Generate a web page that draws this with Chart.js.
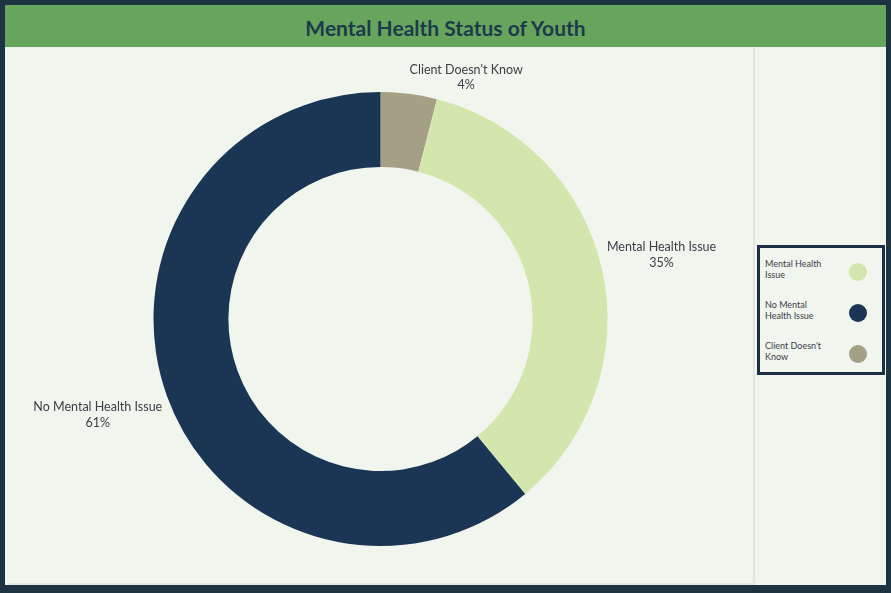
<!DOCTYPE html>
<html>
<head>
<meta charset="utf-8">
<script src="https://cdn.jsdelivr.net/npm/chart.js@4"></script>
<style>
  html, body { margin: 0; padding: 0; background: #1e3342; }
  #frame { position: absolute; left: 0; top: 0; width: 891px; height: 593px; box-sizing: border-box;
    border: 5px solid #1e3342; border-bottom-width: 8px; background: #eff5ee; font-family: Lato, "Open Sans", sans-serif; }
  #title { position: absolute; left: 0; top: 0; right: 0; height: 42px; background: #68a55c;
    color: #1c3a4c; font-weight: bold; font-size: 21px; text-align: center; line-height: 45px; }
  #main { position: absolute; left: 3px; top: 43px; width: 745px; height: 535px; border-right: 2px solid #e2e6e0;
    border-bottom: 2px solid #e2e6e0; background: #f0f5ee; }
  #side { position: absolute; left: 750px; top: 43px; width: 131px; height: 537px; background: #f0f5ee; }
  #legend { position: absolute; left: 2px; top: 197px; width: 122px; height: 124px; border: 3px solid #1b2e45;
    box-sizing: content-box; }
  .item { position: absolute; left: 5px; width: 115px; height: 30px; }
  .item span { position: absolute; left: 0; top: 0; width: 70px; font-size: 9px; line-height: 11px; color: #3b4048; }
  .item i { position: absolute; left: 84px; top: 5px; width: 18px; height: 18px; border-radius: 50%; }
  canvas { position: absolute; left: 0; top: 0; }
</style>
</head>
<body>
<div id="frame">
  <div id="title">Mental Health Status of Youth</div>
  <div id="main"><canvas id="donut" width="745" height="535"></canvas></div>
  <div id="side"><div id="legend"></div></div>
</div>
<script>
// slices in drawing order, clockwise from 12 o'clock
var LABELS = ["Client Doesn't Know", 'Mental Health Issue', 'No Mental Health Issue'];
var VALUES = [4, 35, 61];
var COLORS = ['#a59f85', '#d2e6ad', '#1b3554'];
// legend lists them in a different order
var LEGEND_ORDER = [1, 2, 0];
var LEGEND_TEXT = ['Mental Health\nIssue', 'No Mental\nHealth Issue', "Client Doesn't\nKnow"];

(function () {
  var lg = document.getElementById('legend');
  LEGEND_ORDER.forEach(function (idx, k) {
    var d = document.createElement('div');
    d.className = 'item';
    d.style.top = (10 + k * 41) + 'px';
    var s = document.createElement('span');
    s.textContent = LEGEND_TEXT[k];
    s.style.whiteSpace = 'pre';
    var c = document.createElement('i');
    c.style.background = COLORS[idx];
    d.appendChild(s); d.appendChild(c);
    lg.appendChild(d);
  });
})();

/* name + percent written outside each slice */
var outsideLabels = {
  id: 'outsideLabels',
  afterDatasetsDraw: function (chart) {
    var ctx = chart.ctx;
    var meta = chart.getDatasetMeta(0);
    var total = VALUES.reduce(function (a, b) { return a + b; }, 0);
    ctx.save();
    ctx.font = '12.5px Lato, "Open Sans", sans-serif';
    ctx.fillStyle = '#3a4046';
    ctx.textBaseline = 'middle';
    ctx.textAlign = 'center';
    meta.data.forEach(function (arc, i) {
      var a = (arc.startAngle + arc.endAngle) / 2;
      var r = arc.outerRadius + 5;
      var ax = arc.x + Math.cos(a) * r;
      var ay = arc.y + Math.sin(a) * r;
      var lines = [LABELS[i], Math.round(VALUES[i] / total * 100) + '%'];
      var w = Math.max.apply(null, lines.map(function (t) { return ctx.measureText(t).width; }));
      var lh = 15.5;
      var cx = Math.cos(a) >= 0 ? ax + w / 2 : ax - w / 2;
      var top = Math.sin(a) < 0 ? ay - lh * 2 + 2 : ay + 2;
      if (Math.abs(Math.cos(a)) < 0.35) { top = ay - lh * 2 + 4; }
      lines.forEach(function (t, j) { ctx.fillText(t, cx, top + lh * j + lh / 2); });
    });
    ctx.restore();
  }
};

new Chart(document.getElementById('donut'), {
  type: 'doughnut',
  data: { labels: LABELS, datasets: [{ data: VALUES, backgroundColor: COLORS, borderWidth: 0 }] },
  options: {
    responsive: false,
    animation: false,
    cutout: '67%',
    layout: { padding: { top: 44, bottom: 37, left: 0, right: 0 } },
    plugins: { legend: { display: false }, tooltip: { enabled: false } }
  },
  plugins: [outsideLabels]
});
</script>
</body>
</html>
